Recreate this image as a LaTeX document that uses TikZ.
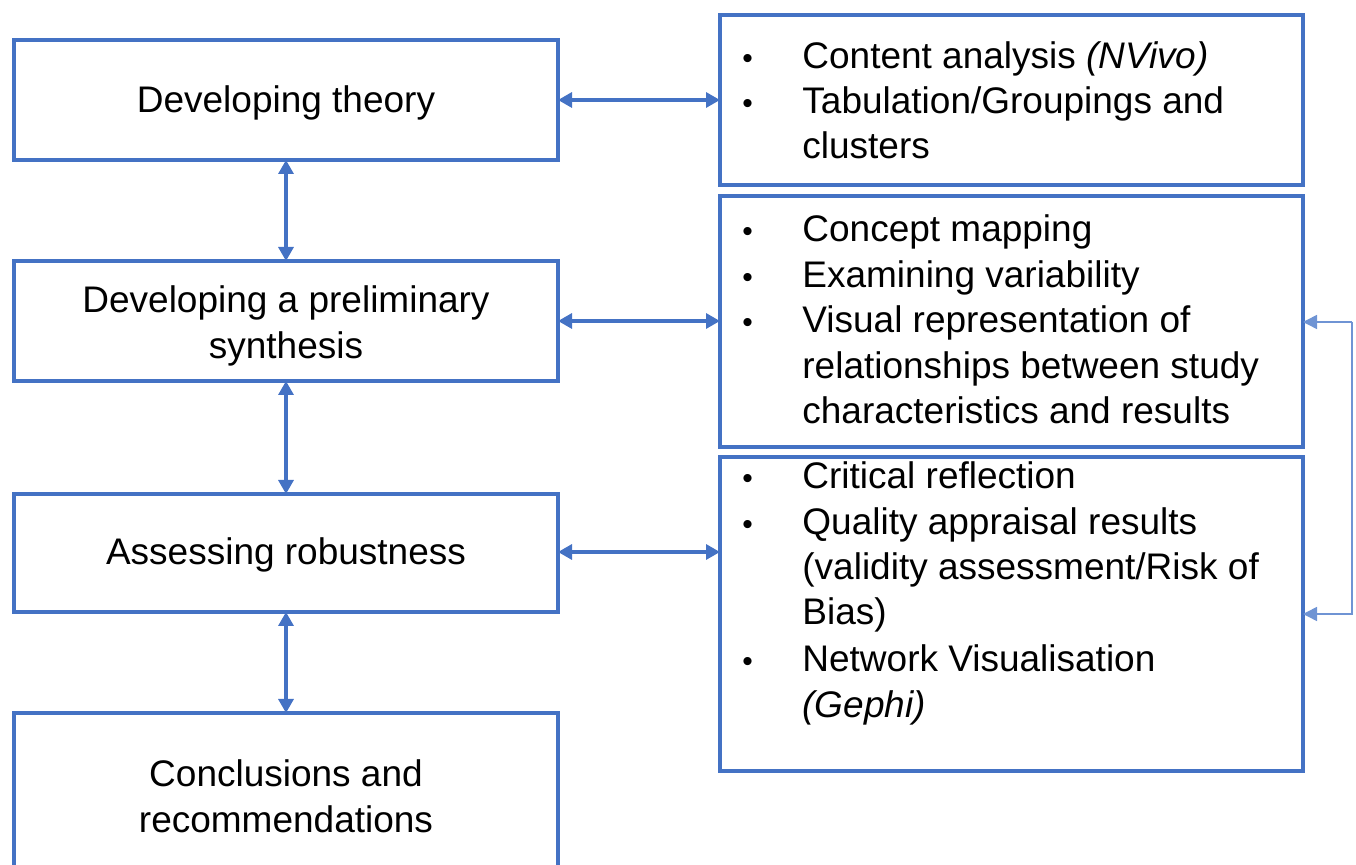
\documentclass[tikz,border=0pt]{standalone}
\usepackage{fontspec}
\setmainfont{Liberation Sans}
\usetikzlibrary{arrows.meta}
\definecolor{bbox}{HTML}{4472C4}
\definecolor{blink}{HTML}{6F94D4}
\tikzset{
  box/.style={draw=bbox, line width=1.6pt, inner sep=0pt},
  txt/.style={font=\fontsize{18.5}{23}\selectfont, align=center, inner sep=0pt},
  item/.style={font=\fontsize{18.5}{23}\selectfont, anchor=mid west, inner sep=0pt, yshift=-3pt},
  bul/.style={font=\fontsize{15}{18}\selectfont, anchor=mid west, inner sep=0pt, yshift=-3pt},
  dbl/.style={draw=bbox, line width=1.6pt, {Triangle[length=7pt,width=7.5pt]}-{Triangle[length=7pt,width=7.5pt]}},
  fb/.style={draw=blink, line width=0.8pt, -{Triangle[length=7pt,width=7pt]}}
}
\begin{document}
\begin{tikzpicture}[x=0.5pt,y=-0.5pt]
\useasboundingbox (0,0) rectangle (1356,865);
\clip (0,0) rectangle (1356,865);
% left boxes
\draw[box] (14,40) rectangle (558,160);
\draw[box] (14,261) rectangle (558,381);
\draw[box] (14,494) rectangle (558,612);
\draw[box] (14,713) rectangle (558,900);
\coordinate (L1n) at (286,40); \coordinate (L1s) at (286,160); \coordinate (L1e) at (558,100);
\coordinate (L2n) at (286,261); \coordinate (L2s) at (286,381); \coordinate (L2e) at (558,321);
\coordinate (L3n) at (286,494); \coordinate (L3s) at (286,612); \coordinate (L3e) at (558,552);
\coordinate (L4n) at (286,713);
\node[txt] (t1) at (286,103) {Developing theory};
\node[txt] (t2) at (286,326) {Developing a preliminary\\synthesis};
\node[txt] (t3) at (286,555) {Assessing robustness};
\node[txt] (t4) at (286,796) {Conclusions and\\recommendations};
% right boxes
\draw[box] (720,15) rectangle (1303,185);
\draw[box] (720,196) rectangle (1303,447);
\draw[box] (720,457) rectangle (1303,771);
\coordinate (R1w) at (720,100);
\coordinate (R2w) at (720,321);
\coordinate (R3w) at (720,552);
\coordinate (R2e) at (1303,322);
\coordinate (R3e) at (1303,614);
\coordinate (c1) at (1352,322);
\coordinate (c2) at (1352,614);
% bullets
\foreach \y in {57,102,230,276,321,477,523,660}
  \node[bul] at (742,\y) {•};
\node[item] (a1) at (802,57) {Content analysis \textit{(NVivo)}};
\node[item] (a2) at (802,102) {Tabulation/Groupings and};
\node[item] (a3) at (802,147) {clusters};
\node[item] (b1) at (802,230) {Concept mapping};
\node[item] (b2) at (802,276) {Examining variability};
\node[item] (b3) at (802,321) {Visual representation of};
\node[item] (b4) at (802,367) {relationships between study};
\node[item] (b5) at (802,412) {characteristics and results};
\node[item] (d1) at (802,477) {Critical reflection};
\node[item] (d2) at (802,523) {Quality appraisal results};
\node[item] (d3) at (802,568) {(validity assessment/Risk of};
\node[item] (d4) at (802,613) {Bias)};
\node[item] (d5) at (802,660) {Network Visualisation};
\node[item] (d6) at (802,706) {\textit{(Gephi)}};
% connectors
\draw[dbl] (L1e) -- (R1w);
\draw[dbl] (L2e) -- (R2w);
\draw[dbl] (L3e) -- (R3w);
\draw[dbl] (L1s) -- (L2n);
\draw[dbl] (L2s) -- (L3n);
\draw[dbl] (L3s) -- (L4n);
\draw[fb] (c1) -- (R2e);
\draw[fb] (c1) -- (c2) -- (R3e);
\end{tikzpicture}
\end{document}
